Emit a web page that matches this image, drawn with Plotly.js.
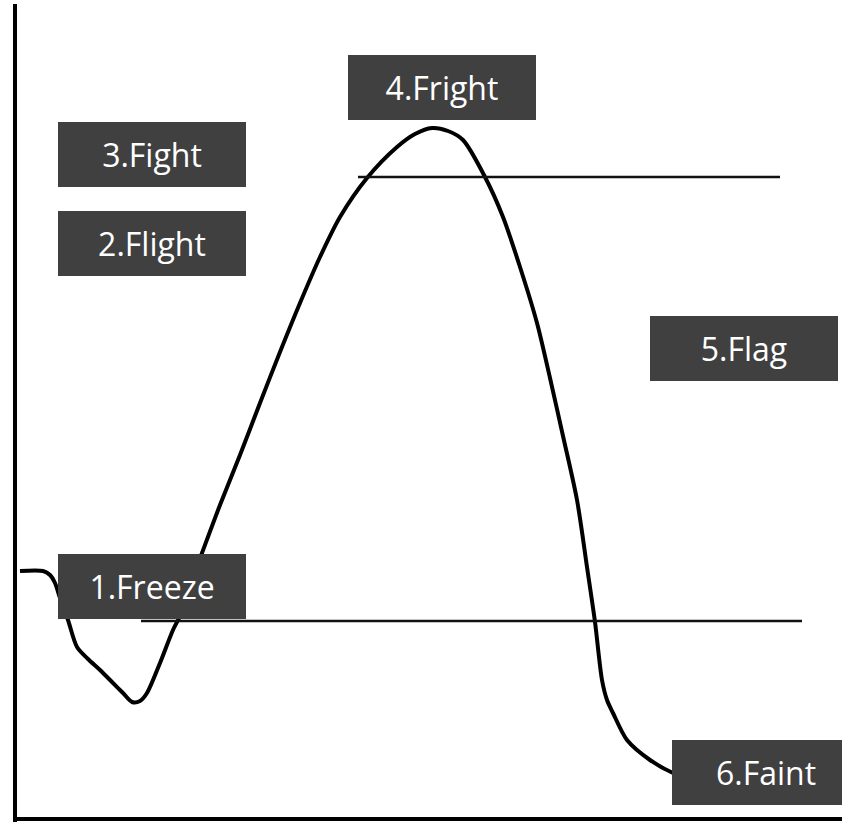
<!DOCTYPE html>
<html>
<head>
<meta charset="utf-8">
<script src="https://cdn.plot.ly/plotly-3.0.1.min.js"></script>
<style>
  html, body { margin: 0; padding: 0; background: #ffffff; }
  #chart { width: 842px; height: 827px; }
</style>
</head>
<body>
<div id="chart"></div>
<script>
// Stress response curve (time vs. arousal)
var time = [20, 43, 50, 55, 60, 68, 77, 88, 100, 112, 123, 132, 140, 147, 160, 173, 182, 192, 202, 220, 240, 260, 280, 300, 320, 340, 367, 397, 415, 432, 448, 463, 485, 503, 520, 537, 550, 563, 577, 587, 595, 602, 607, 613, 627, 650, 673, 700];
var arousal = [256, 256, 252, 244, 229, 207, 180, 168, 157, 145, 134, 125, 126, 134, 164, 197, 215, 247, 274, 322, 372, 424, 475, 524, 570, 610, 649, 680, 693, 699, 696, 687, 650, 610, 560, 504, 449, 391, 327, 260, 205, 147, 127, 114, 87, 67, 54, 45];

// Threshold lines
var upperThreshold = 650;
var upperStart = 358, upperEnd = 780;
var lowerThreshold = 206;
var lowerStart = 141, lowerEnd = 802;

// Stage labels
var stageLabels = ["1.Freeze", "2.Flight", "3.Fight", "4.Fright", "5.Flag", "6.Faint"];

// Axis extents
var xMax = 842, yMax = 827;

var boxPos = [
  [152, 240.5], [152, 583.5], [152, 672.5], [441.5, 739.5], [744, 478.5], [766, 55]
];

var annotations = stageLabels.map(function (t, i) {
  return {
    x: boxPos[i][0], y: boxPos[i][1], xref: 'x', yref: 'y',
    text: t, showarrow: false,
    xanchor: 'center', yanchor: 'middle',
    width: 188, height: 65,
    bgcolor: '#404040', borderpad: 0, borderwidth: 0,
    align: 'center', valign: 'middle',
    font: { family: 'Open Sans, sans-serif', size: 32, color: '#ffffff' }
  };
});

var shapes = [
  { type: 'line', xref: 'x', yref: 'y', x0: 15, x1: 15, y0: 5, y1: 823, line: { color: '#000000', width: 4 } },
  { type: 'line', xref: 'x', yref: 'y', x0: 13, x1: xMax, y0: 8, y1: 8, line: { color: '#000000', width: 4 } },
  { type: 'line', xref: 'x', yref: 'y', x0: upperStart, x1: upperEnd, y0: upperThreshold, y1: upperThreshold, line: { color: '#111111', width: 2.5 } },
  { type: 'line', xref: 'x', yref: 'y', x0: lowerStart, x1: lowerEnd, y0: lowerThreshold, y1: lowerThreshold, line: { color: '#111111', width: 2.5 } }
];

var trace = {
  x: time, y: arousal, type: 'scatter', mode: 'lines',
  line: { color: '#000000', width: 4, shape: 'spline', smoothing: 0.8 },
  hoverinfo: 'skip', showlegend: false
};

var layout = {
  width: 842, height: 827,
  margin: { l: 0, r: 0, t: 0, b: 0, pad: 0 },
  paper_bgcolor: '#ffffff', plot_bgcolor: '#ffffff',
  xaxis: { range: [0, xMax], visible: false, fixedrange: true },
  yaxis: { range: [0, yMax], visible: false, fixedrange: true },
  shapes: shapes,
  annotations: annotations,
  showlegend: false
};

Plotly.newPlot('chart', [trace], layout, { displayModeBar: false, staticPlot: true });
</script>
</body>
</html>
